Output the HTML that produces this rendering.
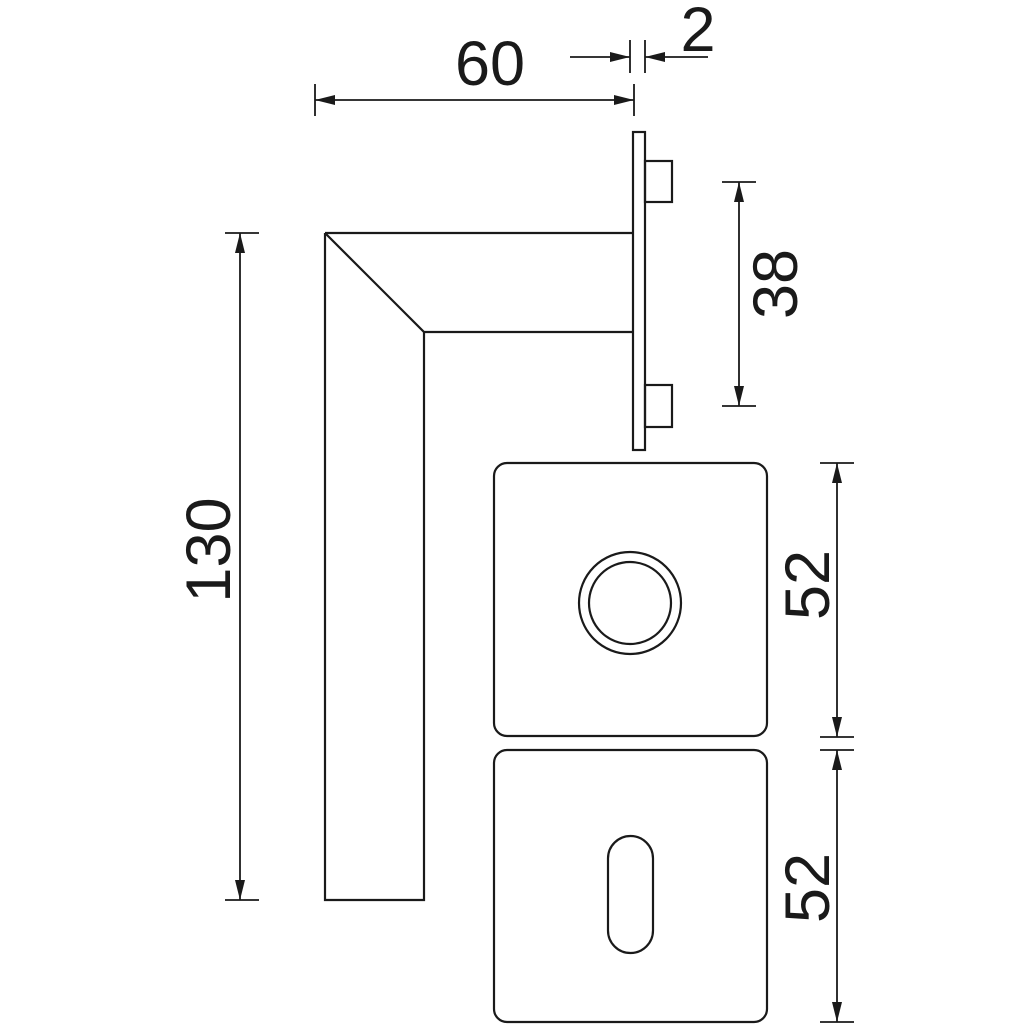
<!DOCTYPE html>
<html><head><meta charset="utf-8"><style>html,body{margin:0;padding:0;background:#fff}svg{display:block}</style></head>
<body>
<svg width="1024" height="1024" viewBox="0 0 1024 1024" xmlns="http://www.w3.org/2000/svg">
<defs>
<marker id="a" viewBox="0 0 20 10" refX="20" refY="5" markerWidth="20" markerHeight="10" markerUnits="userSpaceOnUse" orient="auto-start-reverse"><path d="M0,0 L20,5 L0,10 z" fill="#1a1a1a"/></marker>
</defs>
<g fill="none" stroke="#1a1a1a" stroke-width="2.2">
<path d="M325,233 L633,233 M325,233 L424,332 L633,332 M325,233 L325,900 L424,900 L424,332"/>
<rect x="633" y="132" width="12" height="318"/>
<rect x="645" y="161" width="27" height="41"/>
<rect x="645" y="385" width="27" height="42"/>
<rect x="494" y="463" width="273" height="273" rx="13"/>
<circle cx="630" cy="603" r="51"/>
<circle cx="630" cy="603" r="41"/>
<rect x="494" y="750" width="273" height="272" rx="13"/>
<rect x="608" y="836" width="45" height="117" rx="22.5"/>
</g>
<g fill="none" stroke="#1a1a1a" stroke-width="1.8">
<path d="M225,233 H259 M225,900 H259"/>
<line x1="240" y1="900" x2="240" y2="233" marker-end="url(#a)" marker-start="url(#a)"/>
<path d="M315,84 V116 M634,84 V116"/>
<line x1="315" y1="100" x2="634" y2="100" marker-end="url(#a)" marker-start="url(#a)"/>
<path d="M630,40 V73 M645,40 V73"/>
<line x1="570" y1="57" x2="630" y2="57" marker-end="url(#a)"/>
<line x1="708" y1="57" x2="645" y2="57" marker-end="url(#a)"/>
<path d="M722,182 H756 M722,406 H756"/>
<line x1="739" y1="182" x2="739" y2="406" marker-end="url(#a)" marker-start="url(#a)"/>
<path d="M820,463 H854 M820,737 H854 M820,750 H854 M820,1022 H854"/>
<line x1="837" y1="463" x2="837" y2="737" marker-end="url(#a)" marker-start="url(#a)"/>
<line x1="837" y1="750" x2="837" y2="1022" marker-end="url(#a)" marker-start="url(#a)"/>
</g>
<g font-family="Liberation Sans, sans-serif" font-size="63" fill="#1a1a1a" text-anchor="middle">
<text x="490" y="85">60</text>
<text x="698" y="51">2</text>
<text transform="translate(230,550) rotate(-90)">130</text>
<text transform="translate(797,284) rotate(-90)">38</text>
<text transform="translate(829,585) rotate(-90)">52</text>
<text transform="translate(829,888) rotate(-90)">52</text>
</g>
</svg>
</body></html>
